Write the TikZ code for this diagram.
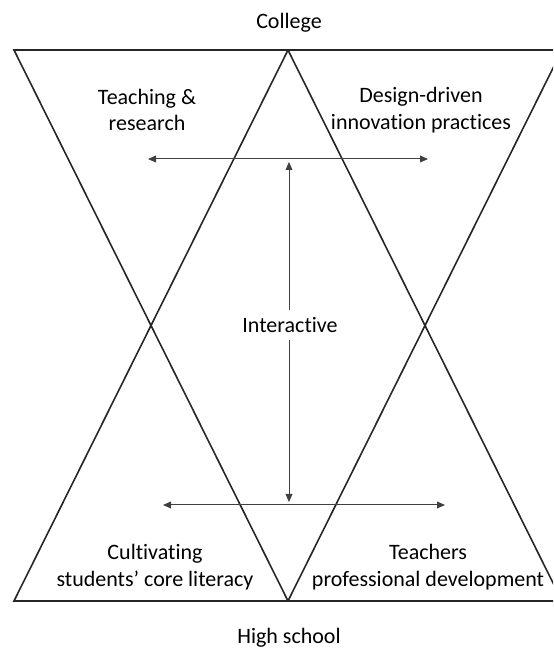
\documentclass[tikz,border=0pt]{standalone}
\usepackage{fontspec}
\setmainfont{Carlito}[Ligatures=NoCommon]
\usetikzlibrary{arrows.meta}

\begin{document}
\begin{tikzpicture}[
  x=0.5pt, y=0.5pt,
  >={Triangle[length=4pt,width=3.4pt]},
  wing/.style={line width=0.8pt, black!85, line join=miter},
  link/.style={line width=0.5pt, black!75},
  label/.style={align=center, font=\fontsize{11}{13.25}\selectfont}
]
  \useasboundingbox (0,0) rectangle (553,655);

  % the two hourglasses, the right one runs off the page
  \begin{scope}
    \clip (0,0) rectangle (553,655);
    \draw[wing] (14,605) -- (288,605) -- (14,54) -- (288,54) -- cycle;
    \draw[wing] (288,605) -- (562,605) -- (288,54) -- (562,54) -- cycle;
  \end{scope}

  \node[label] (college) at (289,632) {College};
  \node[label] (highschool) at (289,17) {High school};

  \node[label] (teach) at (147,545) {Teaching \&\\research};
  \node[label] (design) at (421,545) {Design-driven\\innovation practices};
  \node[label] (cultivate) at (155,88) {Cultivating\\students’ core literacy};
  \node[label] (develop) at (428,88) {Teachers\\professional development};

  \node[label] (interactive) at (290,330) {Interactive};

  \coordinate (upL) at (148,496);
  \coordinate (upR) at (428,496);
  \coordinate (upV) at (289,493);
  \coordinate (loL) at (163,150);
  \coordinate (loR) at (445,150);
  \coordinate (loV) at (289,153);

  \draw[link, <->] (upL) -- (upR);
  \draw[link, <->] (loL) -- (loR);
  \draw[link, ->] (interactive.north -| upV) -- (upV);
  \draw[link, ->] (interactive.south -| loV) -- (loV);
\end{tikzpicture}
\end{document}
